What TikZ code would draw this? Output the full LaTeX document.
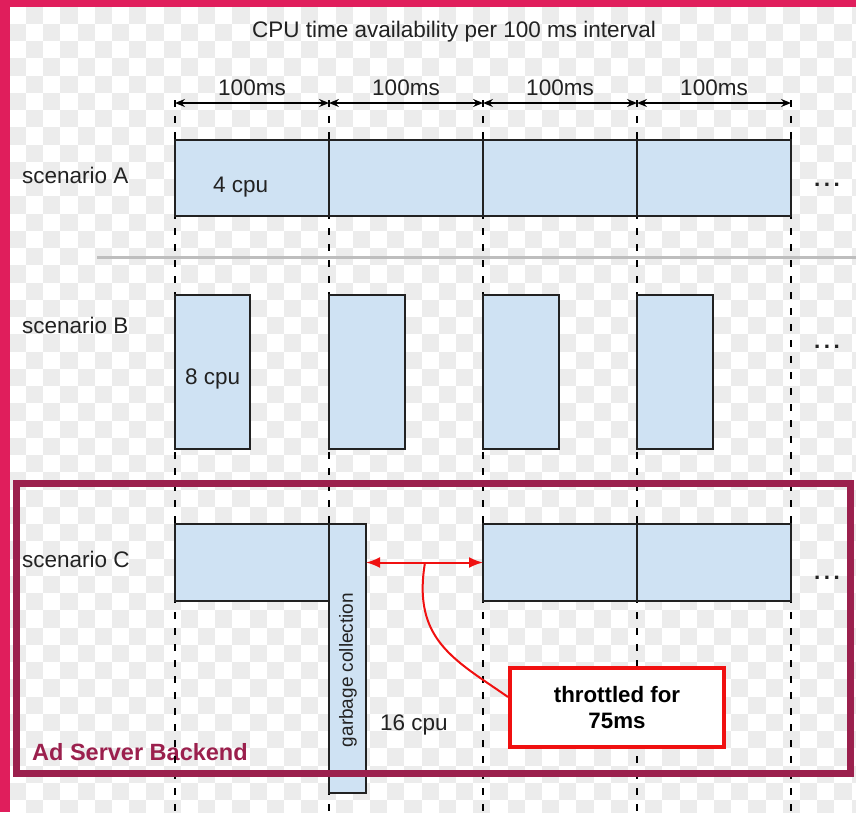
\documentclass[tikz,border=0pt]{standalone}
\usepackage{fontspec}
\setmainfont{Liberation Sans}
\usetikzlibrary{arrows.meta}
\definecolor{pinkb}{RGB}{224,30,92}
\definecolor{maroonf}{RGB}{155,32,77}
\definecolor{boxfill}{RGB}{207,226,243}
\definecolor{boxline}{RGB}{34,34,34}
\definecolor{checkgrey}{RGB}{236,236,236}
\definecolor{sepgrey}{RGB}{190,190,190}
\definecolor{txt}{RGB}{34,34,34}
\definecolor{redc}{RGB}{240,16,16}
\tikzset{
  lbl/.style={font=\fontsize{22.5}{26}\selectfont, text=txt, inner sep=0pt},
  boldlbl/.style={font=\bfseries\fontsize{23.5}{27}\selectfont, inner sep=0pt},
  cpubox/.style={draw=boxline, fill=boxfill, line width=2pt, inner sep=0pt, outer sep=0pt},
  guide/.style={draw=black, line width=2pt, dash pattern=on 7pt off 9pt},
  dimarrow/.style={draw=black, line width=1.6pt, {Stealth[length=10pt,width=8pt,inset=3.5pt]}-{Stealth[length=10pt,width=8pt,inset=3.5pt]}},
  redarrow/.style={draw=redc, line width=2pt, {Latex[length=14pt,width=11pt]}-{Latex[length=14pt,width=11pt]}},
  redline/.style={draw=redc, line width=2pt},
  thrbox/.style={draw=redc, fill=white, line width=4pt, inner sep=0pt, minimum width=214pt, minimum height=79pt, align=center, font=\bfseries\fontsize{22.3}{26}\selectfont},
  dots/.style={font=\bfseries\fontsize{22.5}{26}\selectfont, text=txt, inner sep=0pt}
}
\begin{document}
\begin{tikzpicture}[x=1pt,y=-1pt]
\useasboundingbox (0,0) rectangle (856,812);
\fill[white] (0,0) rectangle (856,812);
% checkerboard background
\begin{scope}
\clip (10,7) rectangle (856,812);
\foreach \i in {0,...,49}{
  \foreach \j in {0,...,47}{
    \pgfmathtruncatemacro{\chk}{mod(\i+\j,2)}
    \ifnum\chk=1
      \fill[checkgrey] (8.8+\i*17.2, 6.5+\j*17.25) rectangle ++(17.2,17.25);
    \fi
  }
}
\end{scope}
% page edges
\fill[pinkb] (0,0) rectangle (10,812);
\fill[pinkb] (0,0) rectangle (856,7);

% title
\node[lbl, anchor=base] (title) at (454,37) {CPU time availability per 100 ms interval};

% guide coordinates
\foreach \k/\x in {0/175,1/329,2/483,3/637,4/791}{
  \coordinate (t\k) at (\x,100);
  \coordinate (a\k) at (\x,103);
  \coordinate (b\k) at (\x,812);
}

% separator
\coordinate (sepL) at (97,257);
\coordinate (sepR) at (856,257);
\draw[sepgrey, line width=3pt] (sepL) -- (sepR);

% Ad Server label (under guides)
\node[boldlbl, text=maroonf, anchor=base west] (adlbl) at (32,760) {Ad Server Backend};

% dashed guides
\foreach \k in {0,...,4}{ \draw[guide] (t\k) -- (b\k); }

% dimension arrows + labels
\foreach \k/\n/\m in {0/1/252,1/2/406,2/3/560,3/4/714}{
  \draw[dimarrow] (a\k) -- (a\n);
  \node[lbl, anchor=base] (d\k) at (\m,95) {100ms};
}

% scenario labels
\node[lbl, anchor=base west] (sA) at (22,183) {scenario A};
\node[lbl, anchor=base west] (sB) at (22,333) {scenario B};
\node[lbl, anchor=base west] (sC) at (22,567) {scenario C};

% scenario A
\node[cpubox, minimum width=154pt, minimum height=76pt] (A1) at (252,178) {};
\node[cpubox, minimum width=154pt, minimum height=76pt] (A2) at (406,178) {};
\node[cpubox, minimum width=154pt, minimum height=76pt] (A3) at (560,178) {};
\node[cpubox, minimum width=154pt, minimum height=76pt] (A4) at (714,178) {};
\node[lbl, anchor=base west] (cA) at (213,192) {4 cpu};
\node[dots] (dA) at (827,185) {.\hspace{3.5pt}.\hspace{3.5pt}.};

% scenario B
\node[cpubox, minimum width=75pt, minimum height=154pt] (B1) at (212.5,372) {};
\node[cpubox, minimum width=76pt, minimum height=154pt] (B2) at (367,372) {};
\node[cpubox, minimum width=76pt, minimum height=154pt] (B3) at (521,372) {};
\node[cpubox, minimum width=76pt, minimum height=154pt] (B4) at (675,372) {};
\node[lbl, anchor=base west] (cB) at (185,384) {8 cpu};
\node[dots] (dB) at (827,347) {.\hspace{3.5pt}.\hspace{3.5pt}.};

% scenario C
\node[cpubox, minimum width=154pt, minimum height=77pt] (C1) at (252,562.5) {};
\node[cpubox, minimum width=154pt, minimum height=77pt] (C2) at (560,562.5) {};
\node[cpubox, minimum width=154pt, minimum height=77pt] (C3) at (714,562.5) {};
\node[cpubox, minimum width=37pt, minimum height=269pt] (gc) at (347.5,658.5) {};
\node[lbl, font=\fontsize{19}{22}\selectfont, rotate=90] (gclbl) at (348,670) {garbage collection};
\node[lbl, anchor=base west] (cC) at (380,730) {16 cpu};
\node[dots] (dC) at (827,578) {.\hspace{3.5pt}.\hspace{3.5pt}.};

% throttle annotation
\draw[redarrow] (gc.east |- C2.west) -- (C2.west);
\coordinate (mid) at (425,562.5);
\node[thrbox] (thr) at (617,707.5) {throttled for\\75ms};
\draw[redline] (mid) .. controls (412,640) and (455,660) .. ([yshift=10.5pt]thr.west);

% Ad Server frame
\draw[maroonf, line width=7pt] (16,483) rectangle (850,773);
\end{tikzpicture}
\end{document}
